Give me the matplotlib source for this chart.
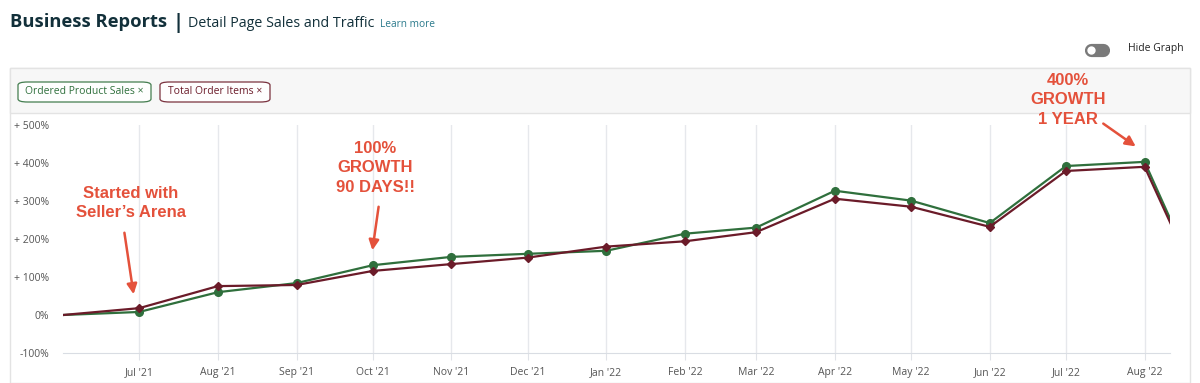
import matplotlib
matplotlib.use("Agg")
import matplotlib.pyplot as plt
from matplotlib.patches import FancyBboxPatch, Rectangle, FancyArrowPatch
from matplotlib.lines import Line2D
import pandas as pd

# monthly growth vs. Jun '21 (percent)
months = ['2021-06-01', '2021-07-01', '2021-08-01', '2021-09-01', '2021-10-01',
          '2021-11-01', '2021-12-01', '2022-01-01', '2022-02-01', '2022-03-01',
          '2022-04-01', '2022-05-01', '2022-06-01', '2022-07-01', '2022-08-01',
          '2022-09-01']
sales_pct = [0, 8, 60, 84, 131, 153, 161, 169, 214, 230, 327, 301, 242, 392, 403, -58]
items_pct = [0, 18, 76, 79, 116, 134, 151, 180, 194, 218, 306, 285, 232, 379, 390, -62]

y_ticks = [-100, 0, 100, 200, 300, 400, 500]
y_labels = ['-100%', '0%', '+ 100%', '+ 200%', '+ 300%', '+ 400%', '+ 500%']

GREEN = '#2f6f3c'
MAROON = '#6b1b29'
RED = '#e4513b'
DARK = '#12303a'
W, H = 1200, 383

dates = pd.to_datetime(months)

fig = plt.figure(figsize=(W / 100, H / 100), dpi=100)
fig.patch.set_facecolor('white')
renderer = fig.canvas.get_renderer()


def px(x, y):
    # top-left pixel coords -> figure fraction
    return x / W, 1 - y / H


def chain(x, y, text, gap, **kw):
    # place text and return the pixel x where the next one should start
    t = fig.text(*px(x, y), text, va='baseline', **kw)
    bb = t.get_window_extent(renderer)
    return bb.x1 + gap


# header
x = chain(10, 27, 'Business Reports', 5, fontsize=13.2, fontweight='bold',
          family='Open Sans', color=DARK)
x = chain(x, 28, '|', 5, fontsize=14.5, fontweight='bold', family='Open Sans', color=DARK)
x = chain(x, 27, 'Detail Page Sales and Traffic', 5, fontsize=10.3,
          family='Open Sans', color=DARK)
chain(x, 27, 'Learn more', 0, fontsize=7.3, family='Open Sans', color='#2b7a8c')

# toggle + hide graph
fig.add_artist(Line2D([1091 / W, 1103 / W], [1 - 49.5 / H] * 2, transform=fig.transFigure,
                      lw=9.5, color='#7a7a7a', solid_capstyle='round'))
fig.add_artist(Line2D([1091 / W], [1 - 49.5 / H], transform=fig.transFigure,
                      marker='o', ms=6, mfc='white', mec='none', ls='none'))
fig.text(*px(1128, 49), 'Hide Graph', fontsize=7.5, family='Open Sans',
         color='#222222', va='center')

# panel
fig.patches.append(Rectangle(px(10, 383), 1180 / W, 315 / H, transform=fig.transFigure,
                             fc='white', ec='#e3e3e3', lw=1, zorder=-2))
fig.patches.append(Rectangle(px(10, 113), 1180 / W, 45 / H, transform=fig.transFigure,
                             fc='#f7f7f7', ec='#e3e3e3', lw=1, zorder=-1))

# legend chips
for x0, w, label, col in [(18, 133, 'Ordered Product Sales ×', GREEN),
                          (160, 110, 'Total Order Items ×', MAROON)]:
    fig.patches.append(FancyBboxPatch(px(x0, 102), w / W, 20 / H,
                                      boxstyle='round,pad=0,rounding_size=0.008',
                                      transform=fig.transFigure, fc='white',
                                      ec=col, lw=0.9, alpha=0.9))
    fig.text(*px(x0 + w / 2, 92), label, fontsize=7.5, family='Open Sans',
             color=col, ha='center', va='center')

# chart
ax = fig.add_axes([63 / W, (H - 353) / H, (1170 - 63) / W, (353 - 125) / H])
ax.set_zorder(2)
ax.set_facecolor('none')
n = len(dates)
ax.plot(dates, sales_pct, color=GREEN, lw=1.6, marker='o', ms=5.5,
        markevery=list(range(1, n - 1)), zorder=3)
ax.plot(dates, items_pct, color=MAROON, lw=1.6, marker='D', ms=3.8,
        markevery=list(range(1, n - 1)), zorder=4)

ax.set_ylim(-100, 500)
ax.set_xlim(pd.Timestamp('2021-06-01'), pd.Timestamp('2022-08-11'))
ax.set_yticks(y_ticks)
ax.set_yticklabels(y_labels)
ax.set_xticks(dates[1:15])
ax.set_xticklabels([d.strftime("%b '%y") for d in dates[1:15]])
ax.grid(axis='x', color='#e6e8ec', lw=1)
ax.tick_params(axis='y', length=0, pad=10, labelsize=7.5, labelcolor='#555555')
ax.tick_params(axis='x', length=5, color='#e0e3e8', pad=5, labelsize=7.5,
               labelcolor='#555555')
for lab in ax.get_xticklabels() + ax.get_yticklabels():
    lab.set_family('Open Sans')
for s in ['top', 'right', 'left']:
    ax.spines[s].set_visible(False)
ax.spines['bottom'].set_color('#d9dde3')


# annotations
def note(text, tx, ty, ax0, ay0, ax1, ay1):
    t = fig.text(*px(tx, ty), text, fontsize=12, fontweight='bold',
                 family='Liberation Sans', color=RED, ha='center', va='center',
                 linespacing=1.4)
    t.set_zorder(5)
    arr = FancyArrowPatch(px(ax0, ay0), px(ax1, ay1), transform=fig.transFigure,
                          arrowstyle='-|>', mutation_scale=15, color=RED, lw=1.8)
    arr.set_zorder(5)
    fig.add_artist(arr)


note("Started with\nSeller’s Arena", 131, 203, 124, 230, 134, 297)
note("100%\nGROWTH\n90 DAYS!!", 375, 168, 379, 204, 372, 253)
note("400%\nGROWTH\n1 YEAR", 1068, 100, 1101, 122, 1138, 148)

fig.savefig('out.png', dpi=100, facecolor='white')
